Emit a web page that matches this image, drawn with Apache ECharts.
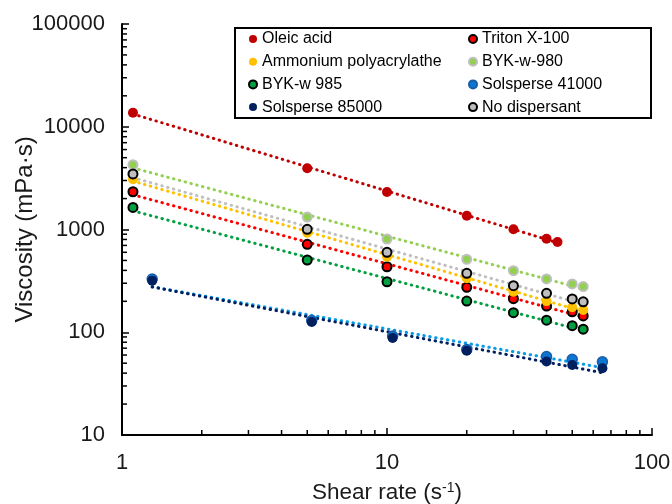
<!DOCTYPE html>
<html>
<head>
<meta charset="utf-8">
<script src="https://cdn.jsdelivr.net/npm/echarts@6/dist/echarts.min.js"></script>
<style>
  html, body { margin: 0; padding: 0; background: #fff; }
  #chart { width: 672px; height: 504px; }
</style>
</head>
<body>
<div id="chart"></div>
<script>
// Shear rates (1/s) at which each sample was measured
const shearRate = [1.1, 5, 10, 20, 30, 40, 50, 55];
const oleicRate = [1.1, 5, 10, 20, 30, 40, 44];
const solsRate = [1.3, 5.2, 10.5, 20, 40, 50, 65];

// Viscosity (mPa·s)
const oleicAcid = [13700, 3950, 2320, 1360, 1005, 814, 756];
const tritonX100 = [2330, 718, 434, 274, 212, 180, 158, 144];
const ammoniumPolyacrylathe = [3080, 930, 544, 335, 248, 201, 175, 165];
const bykW980 = [4270, 1320, 808, 513, 397, 330, 295, 278];
const bykW985 = [1640, 505, 310, 201, 155, 131, 116, 107];
const solsperse41000 = [330, 130, 92, 68, 58, 54.5, 51.5];
const solsperse85000 = [318, 126, 88, 66, 52, 48, 44.6];
const noDispersant = [3470, 1005, 600, 375, 284, 239, 211, 198];

// Axis tick values
const xMajorTicks = [1, 10, 100];
const yMajorTicks = [10, 100, 1000, 10000, 100000];

const FONT = '"Liberation Sans", Arial, sans-serif';

const samples = [
  { name: 'Oleic acid', x: oleicRate, y: oleicAcid, fill: '#C00000', border: '#C00000', bw: 0, size: 10, line: '#C00000' },
  { name: 'Triton X-100', x: shearRate, y: tritonX100, fill: '#FF0000', border: '#000000', bw: 2, size: 9, line: '#FF0000' },
  { name: 'Ammonium polyacrylathe', x: shearRate, y: ammoniumPolyacrylathe, fill: '#FFC000', border: '#FFC000', bw: 0, size: 10, line: '#FFC000' },
  { name: 'BYK-w-980', x: shearRate, y: bykW980, fill: '#92D050', border: '#BFBFBF', bw: 2, size: 9, line: '#92D050' },
  { name: 'BYK-w 985', x: shearRate, y: bykW985, fill: '#00A040', border: '#000000', bw: 2, size: 9, line: '#00A040' },
  { name: 'Solsperse 41000', x: solsRate, y: solsperse41000, fill: '#0A78D2', border: '#1F5CA8', bw: 1.5, size: 10, line: '#0A9AE6' },
  { name: 'Solsperse 85000', x: solsRate, y: solsperse85000, fill: '#002060', border: '#002060', bw: 0, size: 10, line: '#002060' },
  { name: 'No dispersant', x: shearRate, y: noDispersant, fill: '#BFBFBF', border: '#000000', bw: 2, size: 9, line: '#BFBFBF' }
];

// Power-law trendline (least squares in log-log space) between first and last shear rate
function powerFit(xs, ys) {
  const lx = xs.map(Math.log10), ly = ys.map(Math.log10);
  const n = lx.length;
  const mx = lx.reduce((a, b) => a + b, 0) / n;
  const my = ly.reduce((a, b) => a + b, 0) / n;
  let sxy = 0, sxx = 0;
  for (let i = 0; i < n; i++) { sxy += (lx[i] - mx) * (ly[i] - my); sxx += (lx[i] - mx) ** 2; }
  const b = sxy / sxx, a = my - b * mx;
  const x0 = xs[0], x1 = xs[n - 1];
  return [[x0, Math.pow(10, a + b * Math.log10(x0))], [x1, Math.pow(10, a + b * Math.log10(x1))]];
}

// Minor tick values (2..9 within each decade)
function minorTicks(lo, hi) {
  const out = [];
  for (let d = lo; d < hi; d *= 10) for (let k = 2; k <= 9; k++) out.push(d * k);
  return out;
}
const xMinor = minorTicks(1, 100);
const yMinor = minorTicks(10, 100000);

const series = [];
samples.forEach(s => {
  series.push({
    name: s.name + ' trend',
    type: 'line',
    data: powerFit(s.x, s.y),
    symbol: 'none',
    silent: true,
    z: 1,
    lineStyle: { color: s.line, width: 3, type: [0.5, 5.5], cap: 'round' }
  });
});
samples.forEach(s => {
  series.push({
    name: s.name,
    type: 'scatter',
    data: s.x.map((v, i) => [v, s.y[i]]),
    symbol: 'circle',
    symbolSize: s.size,
    z: 3,
    itemStyle: { color: s.fill, borderColor: s.border, borderWidth: s.bw, opacity: 1 }
  });
});

// Minor ticks drawn inside the plot along both log axes
series.push({
  name: 'x minor ticks',
  type: 'custom',
  silent: true,
  z: 5,
  data: xMinor.map(v => [v, 10]),
  renderItem(params, api) {
    const p = api.coord([api.value(0), api.value(1)]);
    return { type: 'line', shape: { x1: p[0], y1: p[1], x2: p[0], y2: p[1] - 5 }, style: { stroke: '#000', lineWidth: 1.5 } };
  }
});
series.push({
  name: 'y minor ticks',
  type: 'custom',
  silent: true,
  z: 5,
  data: yMinor.map(v => [1, v]),
  renderItem(params, api) {
    const p = api.coord([api.value(0), api.value(1)]);
    return { type: 'line', shape: { x1: p[0], y1: p[1], x2: p[0] + 5, y2: p[1] }, style: { stroke: '#000', lineWidth: 1.5 } };
  }
});

const leftCol = ['Oleic acid', 'Ammonium polyacrylathe', 'BYK-w 985', 'Solsperse 85000'];
const rightCol = ['Triton X-100', 'BYK-w-980', 'Solsperse 41000', 'No dispersant'];

function legendAt(left, names) {
  return {
    orient: 'vertical',
    left: left,
    top: 31,
    padding: 0,
    itemGap: 6.7,
    itemWidth: 8,
    itemHeight: 8,
    icon: 'circle',
    selectedMode: false,
    data: names,
    textStyle: { fontFamily: FONT, fontSize: 16, color: '#000', lineHeight: 16 }
  };
}

const chart = echarts.init(document.getElementById('chart'), null, { renderer: 'canvas' });
chart.setOption({
  backgroundColor: '#fff',
  animation: false,
  grid: { left: 122, right: 20, top: 24, bottom: 69, outerBoundsMode: 'none', containLabel: false },
  legend: [legendAt(248, leftCol), legendAt(468, rightCol)],
  graphic: [{
    type: 'rect',
    shape: { x: 235, y: 28, width: 416, height: 90 },
    style: { fill: 'none', stroke: '#000', lineWidth: 2 },
    z: 10
  }],
  xAxis: {
    type: 'log',
    logBase: 10,
    min: xMajorTicks[0],
    max: xMajorTicks[xMajorTicks.length - 1],
    name: 'Shear rate (s{sup|-1})',
    nameLocation: 'middle',
    nameGap: 46,
    nameMoveOverlap: false,
    nameTextStyle: {
      fontFamily: FONT, fontSize: 22.5, color: '#1a1a1a',
      rich: { sup: { fontFamily: FONT, fontSize: 14, color: '#1a1a1a', verticalAlign: 'top', padding: [0, 0, 10, 0] } }
    },
    axisLine: { lineStyle: { color: '#000', width: 2 } },
    axisTick: { inside: true, length: 7, lineStyle: { color: '#000', width: 1.5 } },
    axisLabel: { fontFamily: FONT, fontSize: 22, color: '#1a1a1a', margin: 17, formatter: v => String(Math.round(v)) },
    splitLine: { show: false }
  },
  yAxis: {
    type: 'log',
    logBase: 10,
    min: yMajorTicks[0],
    max: yMajorTicks[yMajorTicks.length - 1],
    name: 'Viscosity (mPa·s)',
    nameLocation: 'middle',
    nameGap: 85,
    nameMoveOverlap: false,
    nameTextStyle: { fontFamily: FONT, fontSize: 24, color: '#1a1a1a' },
    axisLine: { lineStyle: { color: '#000', width: 2 } },
    axisTick: { inside: true, length: 7, lineStyle: { color: '#000', width: 1.5 } },
    axisLabel: { fontFamily: FONT, fontSize: 22, color: '#1a1a1a', margin: 17, formatter: v => String(Math.round(v)) },
    splitLine: { show: false }
  },
  series: series
});
</script>
</body>
</html>
